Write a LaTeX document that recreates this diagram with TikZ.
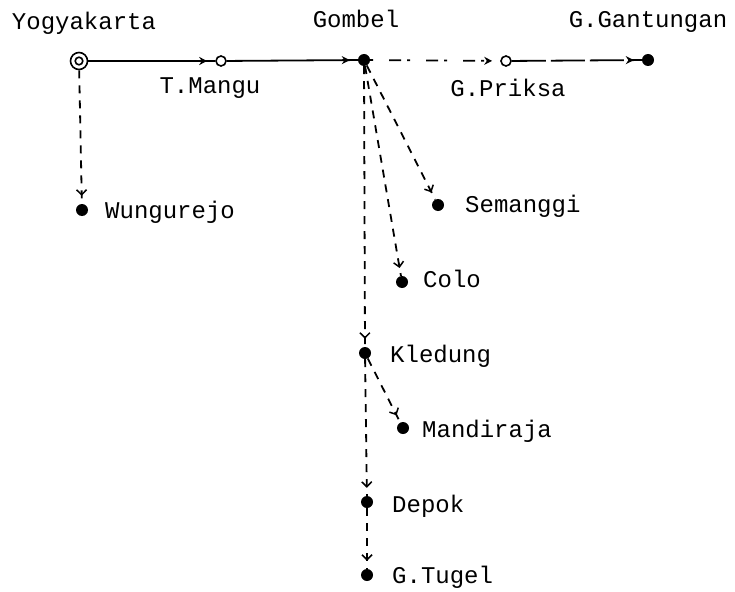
\documentclass[tikz,border=0pt]{standalone}
\usepackage{fontspec}
\setmainfont{Liberation Mono}
\usetikzlibrary{arrows.meta,decorations.markings}
\begin{document}
\begin{tikzpicture}[x=1pt,y=-1pt,
  stop/.style={circle,fill=black,inner sep=0pt,minimum size=12pt},
  halt/.style={circle,draw=black,line width=1.6pt,inner sep=0pt,minimum size=10pt,fill=white},
  origin/.style={circle,draw=black,line width=1.6pt,inner sep=0pt,minimum size=17pt,
    path picture={\draw[line width=1.6pt] (path picture bounding box.center) circle (3.8pt);}},
  place/.style={font=\fontsize{24}{28}\selectfont,inner sep=0pt},
  link/.style={line width=1.8pt,postaction={decorate},
    decoration={markings,mark=at position -8pt with {\arrow{#1}}}},
  link/.default={Stealth[length=8pt,width=8pt]},
  road/.style={link},
  track/.style={link={Straight Barb[length=5pt,width=10pt,line width=1.5pt]},
    dash pattern=on 8pt off 7pt},
]
\path[use as bounding box] (0,0) rectangle (735,591);

% stations
\node[origin] (yog) at (79,61) {};
\node[halt]   (tma) at (221,61) {};
\node[stop]   (gom) at (364,60) {};
\node[halt]   (gpr) at (506,61) {};
\node[stop]   (gga) at (648,60) {};
\node[stop]   (wun) at (82,210) {};
\node[stop]   (sem) at (438,205) {};
\node[stop]   (col) at (402,282) {};
\node[stop]   (kle) at (365,353) {};
\node[stop]   (man) at (403,428) {};
\node[stop]   (dep) at (367,502) {};
\node[stop]   (gtu) at (367,575) {};

% names
\node[place,anchor=base] (lyog) at (84,30)  {Yogyakarta};
\node[place,anchor=base] (lgom) at (356,28) {Gombel};
\node[place,anchor=base] (lgga) at (648,28) {G.Gantungan};
\node[place,anchor=base] (ltma) at (210,94) {T.Mangu};
\node[place,anchor=base] (lgpr) at (508,96) {G.Priksa};
\node[place,anchor=base west] (lwun) at (105,218) {Wungurejo};
\node[place,anchor=base west] (lsem) at (465,212) {Semanggi};
\node[place,anchor=base west] (lcol) at (423,287) {Colo};
\node[place,anchor=base west] (lkle) at (390,362) {Kledung};
\node[place,anchor=base west] (lman) at (422,437) {Mandiraja};
\node[place,anchor=base west] (ldep) at (392,512) {Depok};
\node[place,anchor=base west] (lgtu) at (392,583) {G.Tugel};

% main line
\draw[road] (yog) -- (tma);
\draw[road] (tma) -- (gom);
\draw[link,dash pattern=on 3pt off 16pt on 12pt off 6pt] (gom) -- (gpr);
\draw[link,dash pattern=on 34pt off 5pt] (gpr) -- (gga);

% branches
\draw[track] (yog) -- (wun);
\draw[track] (gom) -- (sem);
\draw[track] (gom) -- (col);
\draw[track] (gom) -- (kle);
\draw[track] (kle) -- (man);
\draw[track] (kle) -- (dep);
\draw[track] (dep) -- (gtu);
\end{tikzpicture}
\end{document}
